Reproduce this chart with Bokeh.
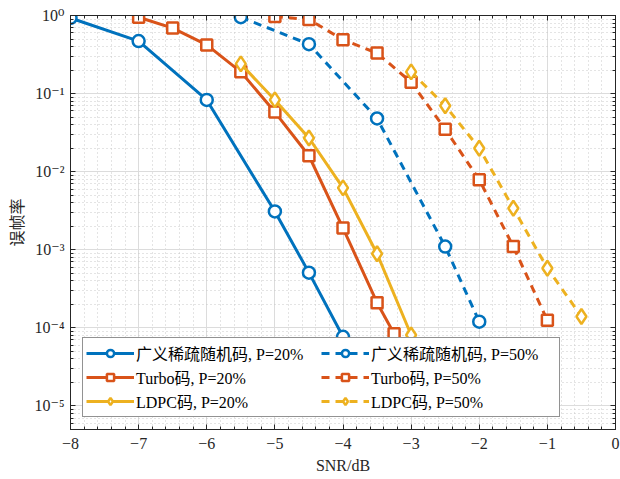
from bokeh.plotting import figure
from bokeh.models import (Range1d, FixedTicker, CustomJSTickFormatter, LogAxis, LinearAxis,
                          Legend, LegendItem)
from bokeh.embed import file_html
from bokeh.resources import INLINE

# ---- data ----
x_gsr20 = [-8, -7, -6, -5, -4.5, -4]
y_gsr20 = [0.93, 0.47, 0.083, 0.0031, 5.1e-4, 7.7e-5]

x_turbo20 = [-7, -6.5, -6, -5.5, -5, -4.5, -4, -3.5, -3.25]
y_turbo20 = [0.95, 0.69, 0.42, 0.19, 0.058, 0.016, 0.0019, 2.1e-4, 8.4e-5]

x_ldpc20 = [-5.5, -5, -4.5, -4, -3.5, -3]
y_ldpc20 = [0.24, 0.083, 0.027, 0.0062, 8.9e-4, 8.1e-5]

x_gsr50 = [-5.5, -4.5, -3.5, -2.5, -2]
y_gsr50 = [0.95, 0.43, 0.048, 0.0011, 1.2e-4]

x_turbo50 = [-5, -4.5, -4, -3.5, -3, -2.5, -2, -1.5, -1]
y_turbo50 = [0.97, 0.89, 0.49, 0.33, 0.14, 0.035, 0.0079, 0.0011, 1.25e-4]

x_ldpc50 = [-3, -2.5, -2, -1.5, -1, -0.5]
y_ldpc50 = [0.19, 0.07, 0.020, 0.0034, 5.8e-4, 1.4e-4]

labels = ["广义稀疏随机码, P=20%", "Turbo码, P=20%", "LDPC码, P=20%",
          "广义稀疏随机码, P=50%", "Turbo码, P=50%", "LDPC码, P=50%"]
x_ticks = [-8, -7, -6, -5, -4, -3, -2, -1, 0]
y_ticks = [1e-5, 1e-4, 1e-3, 1e-2, 1e-1, 1]

FONT = "Liberation Serif, DejaVu Serif, Noto Sans CJK SC"
BLUE, RED, YEL = "#0072BD", "#D95319", "#EDB120"

p = figure(width=620, height=479, y_axis_type="log", output_backend="svg",
           toolbar_location=None, x_range=Range1d(-8, 0), y_range=Range1d(5.0e-6, 1.0),
           min_border_left=70, min_border_right=5, min_border_top=15, min_border_bottom=50)
p.outline_line_color = "#262626"
p.outline_line_width = 1
p.background_fill_color = "white"

minor_y = [k * 10.0 ** d for d in range(-6, 0) for k in range(2, 10)]
minor_x = [-8 + 0.2 * i for i in range(41)]
xt = FixedTicker(ticks=x_ticks, minor_ticks=minor_x)
yt = FixedTicker(ticks=y_ticks, minor_ticks=minor_y)

yfmt = CustomJSTickFormatter(code="""
const sup = {'-':'\u207b','0':'\u2070','1':'\u00b9','2':'\u00b2','3':'\u00b3','4':'\u2074',
             '5':'\u2075','6':'\u2076','7':'\u2077','8':'\u2078','9':'\u2079'};
const e = Math.round(Math.log10(tick));
return '10' + String(e).split('').map(c => sup[c]).join('');
""")
xfmt = CustomJSTickFormatter(code="return String(tick).replace('-', '\u2212');")
blank = CustomJSTickFormatter(code="return '';")

def style_axis(ax):
    ax.major_tick_in = 5
    ax.major_tick_out = 0
    ax.minor_tick_in = 3
    ax.minor_tick_out = 0
    ax.axis_line_color = "#262626"
    ax.major_tick_line_color = "#262626"
    ax.minor_tick_line_color = "#262626"
    ax.major_label_text_font = FONT
    ax.major_label_text_color = "#262626"
    ax.major_label_text_font_size = "16px"
    ax.axis_label_text_font = FONT
    ax.axis_label_text_font_style = "normal"
    ax.axis_label_text_font_size = "16px"
    ax.axis_label_text_color = "#262626"

p.xaxis.ticker = xt
p.xaxis.formatter = xfmt
p.yaxis.ticker = yt
p.yaxis.formatter = yfmt
p.xaxis.axis_label = "SNR/dB"
p.yaxis.axis_label = "误帧率"
style_axis(p.xaxis[0])
style_axis(p.yaxis[0])
p.xaxis.major_label_standoff = 8
p.yaxis.major_label_standoff = 6

ra = LogAxis(ticker=yt, formatter=blank, major_label_standoff=0)
style_axis(ra)
ta = LinearAxis(ticker=xt, formatter=blank, major_label_standoff=0)
style_axis(ta)
p.add_layout(ra, "right")
p.add_layout(ta, "above")

p.xgrid.ticker = xt
p.ygrid.ticker = yt
for g in (p.xgrid[0], p.ygrid[0]):
    g.grid_line_color = "#dcdcdc"
    g.grid_line_width = 1
    g.minor_grid_line_color = "#c8c8c8"
    g.minor_grid_line_dash = "1 3"
    g.minor_grid_line_width = 1

series = [
    (x_gsr20, y_gsr20, BLUE, "solid", "circle"),
    (x_turbo20, y_turbo20, RED, "solid", "square"),
    (x_ldpc20, y_ldpc20, YEL, "solid", "diamond"),
    (x_gsr50, y_gsr50, BLUE, "8 6", "circle"),
    (x_turbo50, y_turbo50, RED, "8 6", "square"),
    (x_ldpc50, y_ldpc50, YEL, "8 6", "diamond"),
]
items = []
for (xs, ys, c, dash, mk), lab in zip(series, labels):
    l = p.line(xs, ys, line_color=c, line_width=3, line_dash=dash)
    size = {"circle": 12, "square": 11, "diamond": 15}[mk]
    s = p.scatter(xs, ys, marker=mk, size=size, line_color=c, line_width=2.5,
                  fill_color="white")
    items.append(LegendItem(label=lab, renderers=[l, s]))

legend = Legend(items=items, ncols=2, location="bottom_left")
legend.label_text_font = FONT
legend.label_text_font_size = "16px"
legend.label_text_line_height = 0.8
legend.label_text_color = "#000000"
legend.glyph_width = 48
legend.glyph_height = 18
legend.label_height = 18
legend.label_width = 185
legend.spacing = 0
legend.padding = 3
legend.margin = 12
legend.label_standoff = 2
legend.border_line_color = "#262626"
legend.border_line_width = 1
legend.background_fill_alpha = 1.0
p.add_layout(legend)

open("out.html", "w").write(file_html(p, INLINE))
